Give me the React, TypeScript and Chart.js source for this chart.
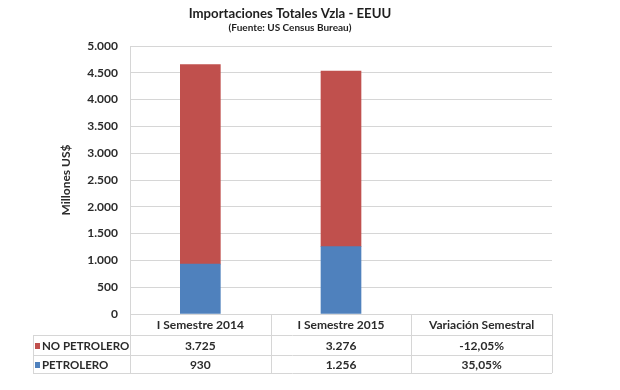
import React, { useEffect, useRef } from "react";
import { Chart, registerables } from "chart.js";

Chart.register(...registerables);

const titleText = "Importaciones Totales Vzla - EEUU";
const subtitleText = "(Fuente: US Census Bureau)";
const yAxisTitle = "Millones US$";
const categories = ["I Semestre 2014", "I Semestre 2015", "Variación Semestral"];
const seriesNames = ["NO PETROLERO", "PETROLERO"];
const noPetrolero = [3725, 3276];
const petrolero = [930, 1256];
const variacionNoPetrolero = -12.05;
const variacionPetrolero = 35.05;
const yMax = 5000;
const yStep = 500;

const RED = "#C0504D";
const BLUE = "#4F81BD";
const TEXT = "#2b2b2b";
const LINE = "#d6d6d6";
const FONT = "Lato, 'Open Sans', sans-serif";

const fmtInt = (v: number) =>
  Math.round(v).toString().replace(/\B(?=(\d{3})+(?!\d))/g, ".");
const fmtPct = (v: number) => v.toFixed(2).replace(".", ",") + "%";

const tablePlugin = {
  id: "tablePlugin",
  afterDraw(chart: any) {
    const ctx = chart.ctx as CanvasRenderingContext2D;
    const area = chart.chartArea;
    const left = area.left;
    const right = area.right;
    const bottom = area.bottom;
    const colW = (right - left) / categories.length;
    const tableLeft = 33;
    const row1Top = 335;
    const row2Top = 355;
    const tableBottom = 373;

    ctx.save();
    // Title & subtitle
    ctx.fillStyle = "#1e1e1e";
    ctx.textAlign = "center";
    ctx.textBaseline = "middle";
    ctx.font = `bold 13.2px ${FONT}`;
    ctx.fillText(titleText, 290, 14);
    ctx.font = `bold 10px ${FONT}`;
    ctx.fillText(subtitleText, 290, 28);

    // Y axis title
    ctx.save();
    ctx.translate(66, (area.top + area.bottom) / 2);
    ctx.rotate(-Math.PI / 2);
    ctx.font = `bold 12px ${FONT}`;
    ctx.fillStyle = TEXT;
    ctx.fillText(yAxisTitle, 0, 0);
    ctx.restore();

    // Table lines
    ctx.strokeStyle = LINE;
    ctx.lineWidth = 1;
    const hline = (y: number, x0: number, x1: number) => {
      ctx.beginPath();
      ctx.moveTo(x0, y + 0.5);
      ctx.lineTo(x1, y + 0.5);
      ctx.stroke();
    };
    const vline = (x: number, y0: number, y1: number) => {
      ctx.beginPath();
      ctx.moveTo(x + 0.5, y0);
      ctx.lineTo(x + 0.5, y1);
      ctx.stroke();
    };
    hline(row1Top, tableLeft, right);
    hline(row2Top, tableLeft, right);
    hline(tableBottom, tableLeft, right);
    vline(tableLeft, row1Top, tableBottom);
    for (let i = 0; i <= categories.length; i++) {
      vline(Math.round(left + colW * i), bottom, tableBottom);
    }

    // Header labels
    ctx.fillStyle = TEXT;
    ctx.font = `bold 12px ${FONT}`;
    ctx.textAlign = "center";
    categories.forEach((c, i) => {
      ctx.fillText(c, left + colW * (i + 0.5), (bottom + row1Top) / 2 + 1);
    });

    // Rows
    const rows = [
      {
        name: seriesNames[0],
        color: RED,
        y: (row1Top + row2Top) / 2 + 1,
        vals: [fmtInt(noPetrolero[0]), fmtInt(noPetrolero[1]), fmtPct(variacionNoPetrolero)],
      },
      {
        name: seriesNames[1],
        color: BLUE,
        y: (row2Top + tableBottom) / 2 + 1,
        vals: [fmtInt(petrolero[0]), fmtInt(petrolero[1]), fmtPct(variacionPetrolero)],
      },
    ];
    rows.forEach((r) => {
      ctx.fillStyle = r.color;
      ctx.fillRect(35, Math.round(r.y) - 3, 5, 6);
      ctx.fillStyle = TEXT;
      ctx.textAlign = "left";
      ctx.font = `bold 11.5px ${FONT}`;
      ctx.fillText(r.name, 42, r.y);
      ctx.font = `bold 12px ${FONT}`;
      ctx.textAlign = "center";
      r.vals.forEach((v, i) => {
        ctx.fillText(v, left + colW * (i + 0.5), r.y);
      });
    });
    ctx.restore();
  },
};

export default function App() {
  const ref = useRef<HTMLCanvasElement | null>(null);
  useEffect(() => {
    if (!ref.current) return;
    const chart = new Chart(ref.current, {
      type: "bar",
      data: {
        labels: categories,
        datasets: [
          {
            label: seriesNames[1],
            data: [...petrolero, null],
            backgroundColor: BLUE,
            barThickness: 40,
          },
          {
            label: seriesNames[0],
            data: [...noPetrolero, null],
            backgroundColor: RED,
            barThickness: 40,
          },
        ],
      },
      options: {
        responsive: false,
        animation: false,
        layout: { padding: { top: 46, right: 68, bottom: 0, left: 0 } },
        plugins: {
          legend: { display: false },
          title: { display: false },
          tooltip: { enabled: false },
        },
        scales: {
          x: {
            stacked: true,
            ticks: { display: false },
            grid: { display: false },
            border: { display: false },
            afterFit: (s: any) => {
              s.height = 76;
            },
          },
          y: {
            stacked: true,
            min: 0,
            max: yMax,
            ticks: {
              stepSize: yStep,
              padding: 12,
              color: TEXT,
              font: { family: FONT, size: 12, weight: "bold" },
              callback: (v: any) => fmtInt(Number(v)),
            },
            grid: { color: LINE, drawTicks: false },
            border: { display: true, color: LINE },
            afterFit: (s: any) => {
              s.width = 130;
            },
          },
        },
      },
      plugins: [tablePlugin],
    });
    return () => chart.destroy();
  }, []);
  return (
    <div style={{ position: "absolute", left: 0, top: 0, width: 620, height: 390, background: "#fff" }}>
      <canvas ref={ref} width={620} height={390} />
    </div>
  );
}
